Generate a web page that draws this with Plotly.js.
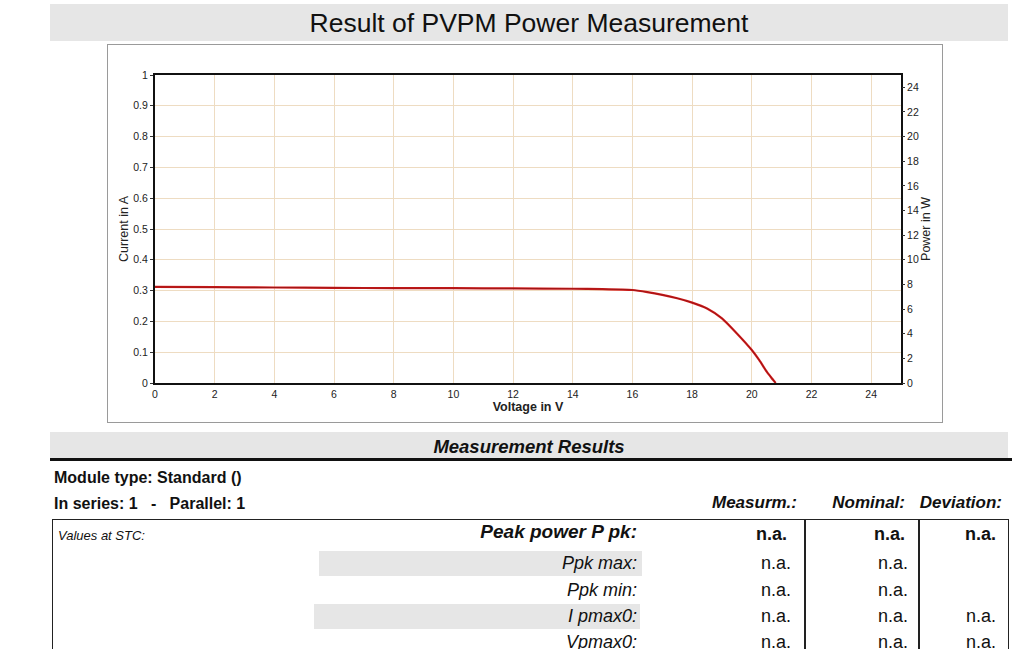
<!DOCTYPE html>
<html>
<head>
<meta charset="utf-8">
<script src="https://cdn.plot.ly/plotly-3.0.1.min.js"></script>
<style>
  body { margin: 0; background: #fff; font-family: "Liberation Sans", Arial, sans-serif; color: #111; }
  #page { position: relative; width: 1023px; height: 649px; overflow: hidden; background: #fff; }
  .abs { position: absolute; white-space: nowrap; }
  #titleBand { left: 50px; top: 4px; width: 958px; height: 37px; background: #e6e6e6;
               font-size: 26.5px; line-height: 37px; text-align: center; padding-top: 1px; box-sizing: border-box; }
  #chartBox { left: 107px; top: 44px; width: 836px; height: 379px; border: 1px solid #9a9a9a; box-sizing: border-box; }
  #chart { position: absolute; left: 0; top: 0; }
  #resBand { left: 50px; top: 432px; width: 958px; height: 26px; background: #e6e6e6;
             font-size: 18.5px; font-weight: bold; font-style: italic; line-height: 29px; text-align: center; }
  #resRule { left: 50px; top: 458px; width: 962px; height: 3px; background: #111; }
  .info { font-size: 16px; font-weight: bold; height: 20px; line-height: 20px; }
  .head { font-size: 17px; font-weight: bold; font-style: italic; height: 20px; line-height: 20px; text-align: right; }
  #tableBox { left: 52px; top: 519px; width: 957px; height: 200px; border: 1.5px solid #222; box-sizing: border-box; }
  .vline { top: 519px; width: 1.5px; height: 200px; background: #222; }
  .cell { height: 24px; line-height: 24px; font-size: 18px; text-align: right; }
  .lab { font-style: italic; }
  .strong { font-weight: bold; }
  .big { font-size: 19px; }
  .shade { background: #e6e6e6; }
</style>
</head>
<body>
<div id="page">
  <div id="titleBand" class="abs">Result of PVPM Power Measurement</div>
  <div id="chartBox" class="abs"><div id="chart"></div></div>
  <div id="resBand" class="abs">Measurement Results</div>
  <div id="resRule" class="abs"></div>
  <div class="abs info" style="left:54px; top:468px;">Module type: Standard ()</div>
  <div class="abs info" style="left:54px; top:494px;">In series: 1&nbsp;&nbsp; - &nbsp;&nbsp;Parallel: 1</div>
  <div id="tableBox" class="abs"></div>
  <div class="abs vline" style="left:804px;"></div>
  <div class="abs vline" style="left:918px;"></div>
  <div class="abs" style="left:58px; top:526px; font-size:13px; font-style:italic; line-height:20px;">Values at STC:</div>
</div>
<script>
// I-V curve
const voltage = [0, 2, 4, 6, 8, 10, 12, 14, 15, 16, 16.5, 17, 17.5, 18, 18.5, 19, 19.5, 20, 20.25, 20.5, 20.65, 20.8];
const current = [0.312, 0.311, 0.310, 0.309, 0.308, 0.308, 0.307, 0.306, 0.305, 0.302, 0.295, 0.286, 0.275, 0.261, 0.242, 0.210, 0.161, 0.107, 0.074, 0.037, 0.018, 0.0];

const voltageTicks = [0, 2, 4, 6, 8, 10, 12, 14, 16, 18, 20, 22, 24];
const powerTicks = [0, 2, 4, 6, 8, 10, 12, 14, 16, 18, 20, 22, 24];

// results table
const columnHeads = ['Measurm.:', 'Nominal:', 'Deviation:'];
const rowLabels = ['Peak power P pk:', 'Ppk max:', 'Ppk min:', 'I pmax0:', 'Vpmax0:'];
const measured = ['n.a.', 'n.a.', 'n.a.', 'n.a.', 'n.a.'];
const nominal = ['n.a.', 'n.a.', 'n.a.', 'n.a.', 'n.a.'];
const deviation = ['n.a.', '', '', 'n.a.', 'n.a.'];

const gridCol = '#eedcc2';

const traces = [
    {
        x: voltage, y: current, type: 'scatter', mode: 'lines',
        line: { color: '#d41a1a', width: 2.2, shape: 'spline', smoothing: 0.5 },
        hoverinfo: 'skip'
    },
    {
        x: voltage, y: current, type: 'scatter', mode: 'lines', opacity: 0.55,
        line: { color: '#401010', width: 0.7, shape: 'spline', smoothing: 0.5 },
        hoverinfo: 'skip'
    },
    // empty trace so the right-hand power axis gets drawn
    { x: [], y: [], type: 'scatter', mode: 'lines', yaxis: 'y2', hoverinfo: 'skip' }
];

const layout = {
    width: 834, height: 377,
    margin: { l: 47, r: 41, t: 30, b: 39 },
    paper_bgcolor: '#fff', plot_bgcolor: '#fff',
    showlegend: false,
    font: { family: 'Liberation Sans, Arial, sans-serif', size: 10, color: '#222' },
    xaxis: {
        range: [0, 25], tickvals: voltageTicks, ticktext: voltageTicks.map(String),
        showgrid: true, gridcolor: gridCol, gridwidth: 1, zeroline: false,
        showline: true, linecolor: '#111', linewidth: 2, mirror: true,
        ticks: '', tickfont: { size: 10.5 },
        title: { text: 'Voltage in V', font: { size: 12.5, weight: 'bold' }, standoff: 0 }
    },
    yaxis: {
        range: [0, 1], dtick: 0.1, showgrid: true, gridcolor: gridCol, zeroline: false,
        showline: true, linecolor: '#111', linewidth: 2, mirror: true,
        ticks: 'outside', ticklen: 3, tickcolor: '#333', tickfont: { size: 10.5 },
        title: { text: 'Current in A', font: { size: 12.5 }, standoff: 2 }
    },
    yaxis2: {
        overlaying: 'y', side: 'right', range: [0, 25], tickvals: powerTicks, ticktext: powerTicks.map(String),
        showgrid: false, zeroline: false, showline: false,
        ticks: 'outside', ticklen: 3, tickcolor: '#333', tickfont: { size: 10.5 },
        title: { text: 'Power in W', font: { size: 12.5 }, standoff: 1 }
    }
};

Plotly.newPlot('chart', traces, layout, { displayModeBar: false, staticPlot: true });

// table text
const page = document.getElementById('page');
function put(text, cls, left, top, width, extra) {
    const d = document.createElement('div');
    d.className = 'abs ' + cls;
    d.textContent = text;
    d.style.left = left + 'px';
    d.style.top = top + 'px';
    if (width) d.style.width = width + 'px';
    if (extra) Object.assign(d.style, extra);
    page.appendChild(d);
    return d;
}

const headRight = [797, 905, 1002];
columnHeads.forEach((h, i) => put(h, 'head', headRight[i] - 120, 493, 120));

const rowCenters = [534, 563, 590, 616, 642];
const shaded = { 1: [319, 642], 3: [314, 640] };
rowLabels.forEach((lab, r) => {
    const top = rowCenters[r] - 12;
    if (shaded[r]) {
        const [a, b] = shaded[r];
        put('', 'shade', a, top, b - a, { height: '25px' });
    }
    const first = r === 0;
    put(lab, 'cell lab' + (first ? ' strong big' : ''), 637 - 300, top - (first ? 2 : 0), 300);
    const rights = first ? [787, 905, 996] : [791, 908, 996];
    [measured[r], nominal[r], deviation[r]].forEach((v, c) => {
        if (v) put(v, 'cell' + (first ? ' strong' : ''), rights[c] - 80, top, 80);
    });
});
</script>
</body>
</html>
